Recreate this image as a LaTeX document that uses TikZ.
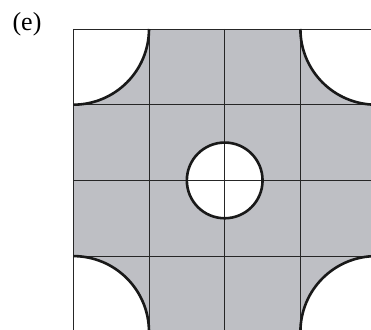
\documentclass[tikz,border=0pt]{standalone}
\usepackage{fontspec}
\setmainfont{Liberation Serif}
\definecolor{cellgray}{RGB}{190,191,196}
\begin{document}
\begin{tikzpicture}[x=1pt,y=-1pt,
  gridline/.style={line width=0.9pt,black!85},
  arcline/.style={line width=2.6pt,black!90}]
\useasboundingbox (0,0) rectangle (371,329);
\def\ox{73.3}\def\oy{29}\def\c{75.7}
% gray square
\fill[cellgray] (\ox,\oy) rectangle ({\ox+4*\c},{\oy+4*\c});
% white corner quarter disks and central disk
\fill[white] (\ox,\oy) circle (\c);
\fill[white] ({\ox+4*\c},\oy) circle (\c);
\fill[white] (\ox,{\oy+4*\c}) circle (\c);
\fill[white] ({\ox+4*\c},{\oy+4*\c}) circle (\c);
\fill[white] ({\ox+2*\c},{\oy+2*\c}) circle ({0.5*\c});
% grid
\foreach \i in {0,1,2,3,4}{
  \draw[gridline] ({\ox+\i*\c},\oy) -- ({\ox+\i*\c},{\oy+4*\c});
  \draw[gridline] (\ox,{\oy+\i*\c}) -- ({\ox+4*\c},{\oy+\i*\c});
}
% thick arcs
\draw[arcline] ({\ox+\c},\oy) arc[start angle=0,end angle=90,radius=\c];
\draw[arcline] ({\ox+3*\c},\oy) arc[start angle=180,end angle=90,radius=\c];
\draw[arcline] (\ox,{\oy+3*\c}) arc[start angle=270,end angle=360,radius=\c];
\draw[arcline] ({\ox+4*\c},{\oy+3*\c}) arc[start angle=270,end angle=180,radius=\c];
\draw[arcline] ({\ox+2*\c},{\oy+2*\c}) circle ({0.5*\c});
% label
\node[font=\fontsize{26}{30}\selectfont,inner sep=0pt] (lab) at (27,24) {(e)};
\end{tikzpicture}
\end{document}
